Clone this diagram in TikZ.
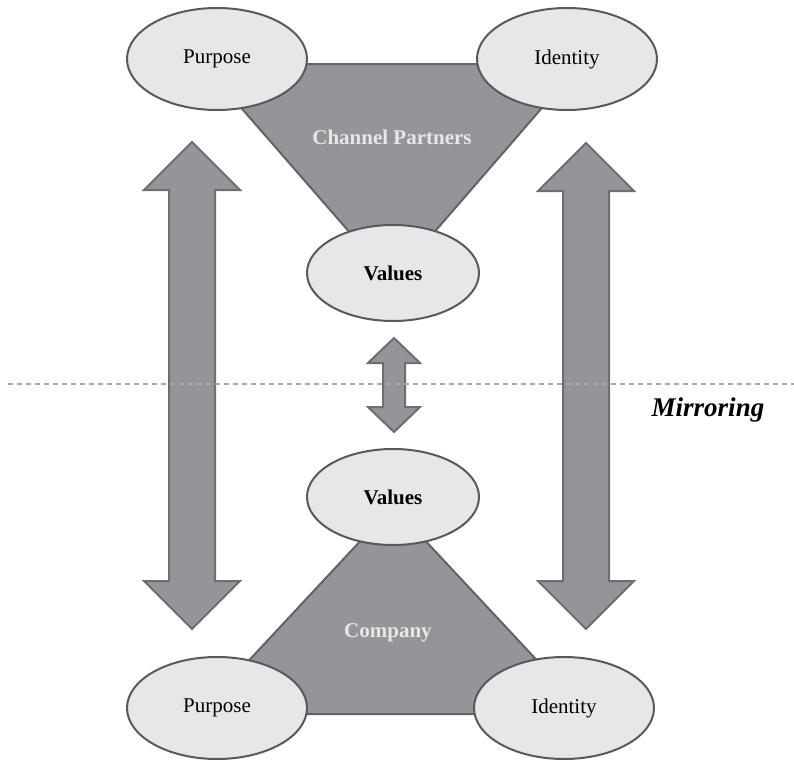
\documentclass[tikz,border=0pt]{standalone}
\usepackage{fontspec}
\setmainfont{Liberation Serif}
\usepackage{tikz}
\usetikzlibrary{shapes.geometric}
\definecolor{oval}{HTML}{E6E7E8}
\definecolor{ovalline}{HTML}{58595B}
\definecolor{wedge}{HTML}{939598}
\definecolor{wedgeline}{HTML}{626366}
\definecolor{arrline}{HTML}{6D6E71}
\definecolor{mirror}{HTML}{A7A9AC}
% two-headed block arrow: x, top tip, bottom tip, head half width, shaft half width, head length
\newcommand{\twoway}[6]{%
  \draw[blockarr] (#1,#2) -- (#1+#4,#2+#6) -- (#1+#5,#2+#6) -- (#1+#5,#3-#6)
    -- (#1+#4,#3-#6) -- (#1,#3) -- (#1-#4,#3-#6) -- (#1-#5,#3-#6)
    -- (#1-#5,#2+#6) -- (#1-#4,#2+#6) -- cycle;}

\begin{document}
\begin{tikzpicture}[
  x=0.5pt, y=-0.5pt,
  font=\fontsize{10.5}{12}\selectfont,
  oval/.style={ellipse, draw=ovalline, fill=oval, line width=1pt, inner sep=0pt,
    minimum width=90pt, minimum height=51pt},
  midoval/.style={oval, minimum width=86pt, minimum height=48pt, font=\fontsize{10.5}{12}\selectfont\bfseries},
  wedge/.style={draw=wedgeline, fill=wedge, line width=1pt, line join=round},
  blockarr/.style={draw=arrline, fill=wedge, line width=1pt},
  inlabel/.style={text=oval, font=\fontsize{10.5}{12}\selectfont\bfseries},
  mirrorline/.style={draw=mirror, line width=0.7pt, dash pattern=on 2.5pt off 2pt}
]
\useasboundingbox (0,0) rectangle (794,760);

% corners of the two triangles
\coordinate (cpL) at (203,64);
\coordinate (cpR) at (580,64);
\coordinate (cpV) at (392,281);
\coordinate (coL) at (199,714);
\coordinate (coR) at (587,714);
\coordinate (coV) at (393,506);

\draw[wedge] (cpL) -- (cpR) -- (cpV) -- cycle;
\draw[wedge] (coL) -- (coR) -- (coV) -- cycle;

\node[inlabel] (partners) at (392,137) {Channel Partners};
\node[inlabel] (company) at (388,633) {Company};

% channel partners
\node[oval] (purposeT) at (217,59) {Purpose};
\node[oval] (identityT) at (567,59) {Identity};
\node[midoval] (valuesT) at (393,273) {Values};

% company
\node[midoval] (valuesB) at (393,497) {Values};
\node[oval] (purposeB) at (217,708) {Purpose};
\node[oval] (identityB) at (564,708) {Identity};

\twoway{192}{142}{629}{48}{23}{48}
\twoway{586}{143}{629}{48}{23}{48}
\twoway{394}{338}{432}{26}{11}{25}

\coordinate (mirL) at (8,384);
\coordinate (mirR) at (794,384);
\draw[mirrorline] (mirL) -- (mirR);
\node[font=\fontsize{13.5}{15}\selectfont\bfseries\itshape] (mirroring) at (708,410) {Mirroring};
\end{tikzpicture}
\end{document}
